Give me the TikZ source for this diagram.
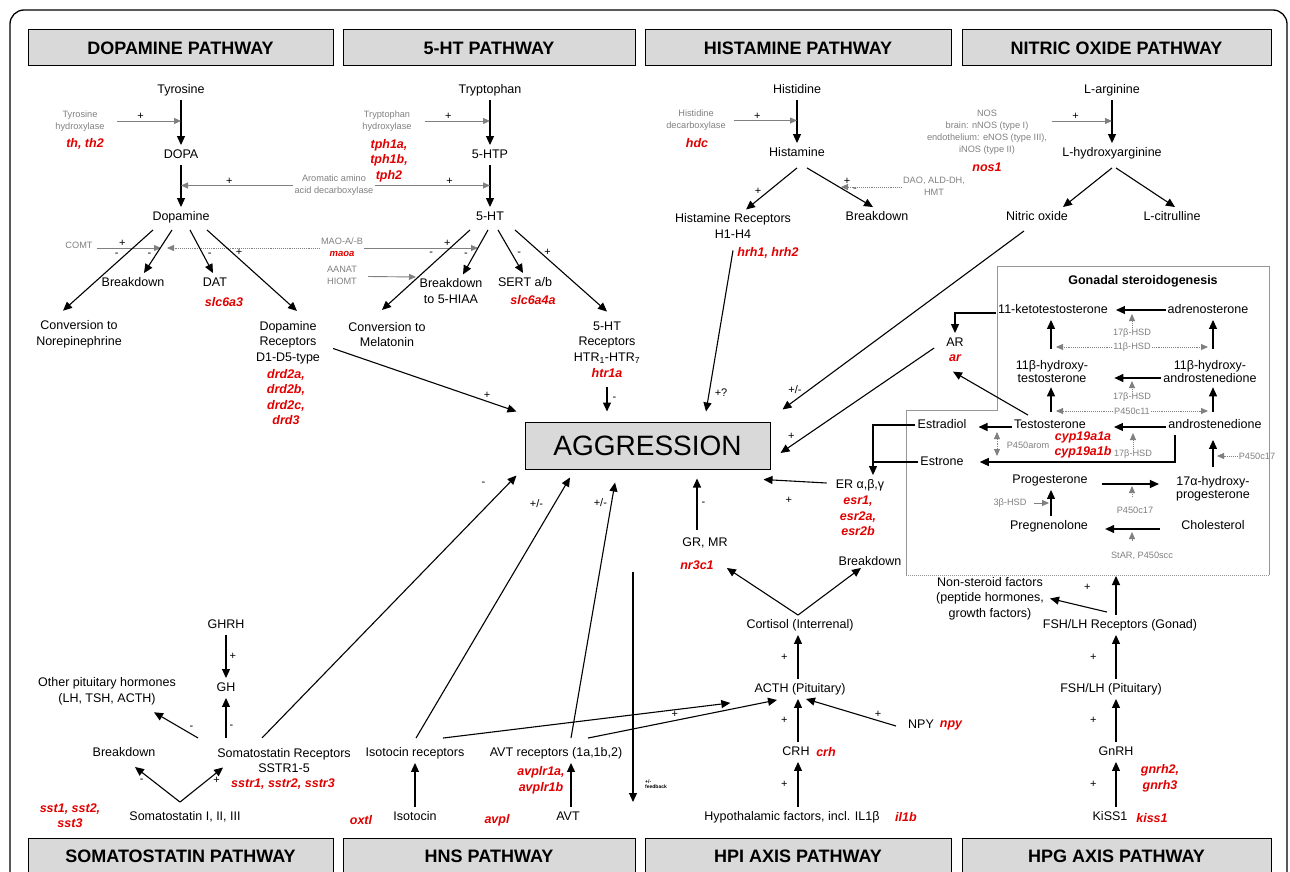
\documentclass[tikz,border=0pt]{standalone}
\usepackage{fontspec}
\setmainfont{Liberation Sans}
\usetikzlibrary{arrows.meta, calc}
\definecolor{hdrgray}{RGB}{217,217,217}
\definecolor{enzgray}{RGB}{128,128,128}
\definecolor{genered}{RGB}{225,0,0}
\definecolor{boxgray}{RGB}{150,150,150}
\tikzset{
  hdr/.style={draw=black, line width=1pt, fill=hdrgray, minimum height=36pt, inner sep=0pt, font=\fontsize{18}{18}\selectfont\bfseries},
  aggrbox/.style={draw=black, line width=1pt, fill=hdrgray, minimum width=245pt, minimum height=47pt, inner sep=0pt, font=\fontsize{28}{28}\selectfont},
  lbl/.style={font=\fontsize{12.5}{15}\selectfont, inner xsep=2pt, inner ysep=4pt, text height=9pt, text depth=2.5pt},
  mlbl/.style={font=\fontsize{12.5}{15.5}\selectfont, align=center, inner xsep=2pt, inner ysep=4pt},
  slbl/.style={font=\fontsize{12.5}{13}\selectfont, align=center, inner xsep=2pt, inner ysep=4pt},
  gene/.style={font=\fontsize{12.5}{15.5}\selectfont\bfseries\itshape, text=genered, align=center, inner sep=1pt},
  enz/.style={font=\fontsize{9.2}{12}\selectfont, text=enzgray, align=center, inner sep=1pt},
  sgn/.style={font=\fontsize{11}{11}\selectfont, inner sep=1pt},
  arr/.style={draw=black, line width=1.1pt, -{Triangle[length=9pt,width=8pt]}},
  garr/.style={draw=enzgray, line width=0.9pt, -{Triangle[length=7pt,width=6pt]}},
  gdarr/.style={garr, densely dotted},
  gdboth/.style={gdarr, {Triangle[length=7pt,width=6pt]}-{Triangle[length=7pt,width=6pt]}},
  boxline/.style={draw=boxgray, line width=1pt}
}
\begin{document}
\begin{tikzpicture}[x=1pt, y=-1pt]
\useasboundingbox (0,0) rectangle (1290,872);
\draw[line width=1.3pt, rounded corners=14pt] (10,10) rectangle (1287,900);

\node[hdr, minimum width=305pt] (hdopa) at (180.5,48) {DOPAMINE PATHWAY};
\node[hdr, minimum width=292pt] (hsht) at (489,48) {5-HT PATHWAY};
\node[hdr, minimum width=306pt] (hhis) at (798,48) {HISTAMINE PATHWAY};
\node[hdr, minimum width=309pt] (hno) at (1116.5,48) {NITRIC OXIDE PATHWAY};
\node[hdr, minimum width=305pt] (hsst) at (180.5,856) {SOMATOSTATIN PATHWAY};
\node[hdr, minimum width=292pt] (hhns) at (489,856) {HNS PATHWAY};
\node[hdr, minimum width=306pt] (hhpi) at (798,856) {HPI AXIS PATHWAY};
\node[hdr, minimum width=309pt] (hhpg) at (1116.5,856) {HPG AXIS PATHWAY};

\node[aggrbox] (aggr) at (647.5,445.5) {AGGRESSION};

\node[lbl] (tyr) at (181,90) {Tyrosine};
\node[lbl] (dopa) at (181,155) {DOPA};
\node[lbl] (dopam) at (181,217) {Dopamine};
\node[enz] (thenz) at (80,121) {Tyrosine\\hydroxylase};
\node[gene] (thgene) at (85,144) {th, th2};
\node[enz] (aadc) at (334,185.5) {Aromatic amino\\acid decarboxylase};
\node[enz] (comt) at (79,245) {COMT};
\node[enz] (mao) at (342,241) {MAO-A/-B};
\node[gene, font=\fontsize{9.5}{10}\selectfont\bfseries\itshape] (maogene) at (342,254) {maoa};
\node[enz] (aanat) at (342,275.5) {AANAT\\HIOMT};
\node[mlbl] (conor) at (79,334.5) {Conversion to\\Norepinephrine};
\node[lbl] (dbrk) at (133,283) {Breakdown};
\node[lbl] (dat) at (215,283) {DAT};
\node[gene] (datgene) at (224,302) {slc6a3};
\node[mlbl] (drec) at (288,342.5) {Dopamine\\Receptors\\D1-D5-type};
\node[gene] (drecgene) at (286,397) {drd2a,\\drd2b,\\drd2c,\\drd3};

\draw[arr] (tyr) -- (dopa);
\draw[arr] (dopa) -- (dopam);
\draw[garr] ($(thenz.east)+(11,0)$) -- (tyr |- thenz.east) node[sgn, pos=.37, above] (thp) {+};
\draw[garr] (aadc.west) -- (dopa |- aadc.west) node[sgn, pos=.57, above] (aadcp1) {+};
\coordinate (comtend) at (161,248);
\coordinate (maoend) at (167,248);
\coordinate (maoend2) at (478,248);
\coordinate (aanatend) at (416,277);
\draw[garr] ($(comt.east)+(3,3)$) -- (comtend) node[sgn, pos=.4, above] (comtp) {+};
\draw[gdarr] (mao.west |- maoend) -- (maoend);
\draw[garr] (mao.east |- maoend2) -- (maoend2) node[sgn, pos=.73, above] (maop) {+};
\draw[garr] ($(aanat.east)+(10,1)$) -- (aanatend);
\draw[arr] ($(dopam.south)+(-28,3)$) -- ($(conor.north)+(-16,-6)$) node[sgn, pos=.31, left=5pt] (dm1) {-};
\draw[arr] ($(dopam.south)+(-9,3)$) -- ($(dbrk.north)+(11,0)$) node[sgn, pos=.58, left=3pt] (dm2) {-};
\draw[arr] ($(dopam.south)+(9,3)$) -- ($(dat.north)+(-2,0)$) node[sgn, pos=.58, right=3pt] (dm3) {-};
\draw[arr] ($(dopam.south)+(26,3)$) -- ($(drec.north)+(9,-6)$) node[sgn, pos=.28, right=2pt] (dp1) {+};
\draw[arr] ($(drec.east)+(11,6)$) -- ($(aggr.north west)+(-8,-10)$) node[sgn, pos=.84, above=1pt] (dp2) {+};

\node[lbl] (trp) at (490,90) {Tryptophan};
\node[lbl] (htp) at (490,155) {5-HTP};
\node[lbl] (sht) at (490,217) {5-HT};
\node[enz] (tphenz) at (387,121) {Tryptophan\\hydroxylase};
\node[gene] (tphgene) at (389,160.5) {tph1a,\\tph1b,\\tph2};
\node[mlbl] (comel) at (387,334.5) {Conversion to\\Melatonin};
\node[mlbl] (sbrk) at (451,291) {Breakdown\\to 5-HIAA};
\node[lbl] (sert) at (525,283) {SERT a/b};
\node[gene] (sertgene) at (533,300) {slc6a4a};
\node[mlbl] (srec) at (607,342.5) {5-HT\\Receptors\\HTR\textsubscript{1}-HTR\textsubscript{7}};
\node[gene] (srecgene) at (607,373) {htr1a};

\draw[arr] (trp) -- (htp);
\draw[arr] (htp) -- (sht);
\draw[garr] ($(tphenz.east)+(12,0)$) -- (trp |- tphenz.east) node[sgn, pos=.36, above] (tphp) {+};
\draw[garr] (aadc.east) -- (trp |- aadc.east) node[sgn, pos=.65, above] (aadcp2) {+};
\draw[arr] ($(sht.south)+(-20,3)$) -- ($(comel.north)+(-5,-8)$) node[sgn, pos=.3, left=9pt] (sm1) {-};
\draw[arr] ($(sht.south)+(-2,3)$) -- ($(sbrk.north)+(12,0)$) node[sgn, pos=.55, left=5pt] (sm2) {-};
\draw[arr] ($(sht.south)+(8,3)$) -- ($(sert.north)+(-2,0)$) node[sgn, pos=.55, right=4pt] (sm3) {-};
\draw[arr] ($(sht.south)+(25,3)$) -- ($(srec.north)+(0,-6)$) node[sgn, pos=.28, right=2pt] (sp1) {+};
\draw[arr] ($(srecgene.south)+(0,8)$) -- ($(aggr.north)+(-40.5,-10)$) node[sgn, pos=.5, right=4pt] (sm4) {-};

\node[lbl] (his) at (797,90) {Histidine};
\node[lbl] (hist) at (797,153) {Histamine};
\node[enz] (hdcenz) at (696,120.5) {Histidine\\decarboxylase};
\node[gene] (hdcgene) at (697,143) {hdc};
\node[mlbl] (hrec) at (733,226) {Histamine Receptors\\H1-H4};
\node[lbl] (hbrk) at (877,217) {Breakdown};
\node[gene] (hrecgene) at (768,253) {hrh1, hrh2};
\node[enz] (dao) at (934,186) {DAO, ALD-DH,\\HMT};

\draw[arr] (his) -- (hist);
\draw[garr] ($(hdcenz.east)+(7,0)$) -- (his |- hdcenz.east) node[sgn, pos=.37, above] (hdcp) {+};
\draw[arr] ($(hist.south)+(0,5)$) -- ($(hrec.north)+(13,0)$) node[sgn, pos=.57, left=5pt] (hp1) {+};
\draw[arr] ($(hist.south)+(10,5)$) -- ($(hbrk.north)+(-4,0)$) node[sgn, pos=.57, right=7pt] (hm1) {-};
\coordinate (daoend) at (841,187);
\draw[gdarr] (dao.west |- daoend) -- (daoend) node[sgn, pos=.9, above=1pt] (daop) {+};
\draw[arr] ($(hrec.south)+(0,8)$) -- ($(aggr.north)+(58.5,-10)$) node[sgn, pos=.88, right=4pt] (hq) {+?};

\node[lbl] (arg) at (1112,90) {L-arginine};
\node[lbl] (harg) at (1112,153) {L-hydroxyarginine};
\node[enz] (nosenz) at (987,132) {NOS\\brain: nNOS (type I)\\endothelium: eNOS (type III),\\iNOS (type II)};
\node[gene] (nosgene) at (987,167) {nos1};
\node[lbl] (no) at (1037,217) {Nitric oxide};
\node[lbl] (cit) at (1172,217) {L-citrulline};

\draw[arr] (arg) -- (harg);
\coordinate (nosin) at ($(nosenz.east)+(4,-11)$);
\draw[garr] (nosin) -- (arg |- nosin) node[sgn, pos=.39, above] (nosp) {+};
\draw[arr] ($(harg.south)+(0,5)$) -- ($(no.north)+(26,0)$);
\draw[arr] ($(harg.south)+(4,5)$) -- ($(cit.north)+(3,0)$);
\draw[arr] ($(no.south)+(-13,4)$) -- ($(aggr.north east)+(12,-12)$) node[sgn, pos=.89, left=6pt] (nopm) {+/-};

\draw[boxline] (906,575) -- (906,410) -- (997,410) -- (997,266) -- (1269,266) -- (1269,575);
\draw[boxline, densely dotted] (1269,575) -- (906,575);
\node[font=\fontsize{12.5}{15}\selectfont\bfseries, inner sep=1pt] (gst) at (1143,281) {Gonadal steroidogenesis};
\coordinate (lc) at (1051,0);
\coordinate (rc) at (1213,0);
\coordinate (aromx) at (997,0);

\node[lbl] (ketot) at (1053,310) {11-ketotestosterone};
\node[lbl] (adren) at (1208,310) {adrenosterone};
\node[slbl] (hydt) at (1052,372) {11β-hydroxy-\\testosterone};
\node[slbl] (hyda) at (1210,372) {11β-hydroxy-\\androstenedione};
\node[lbl] (testo) at (1050,425) {Testosterone};
\node[lbl] (andro) at (1215,425) {androstenedione};
\node[lbl] (estd) at (942,425) {Estradiol};
\node[lbl] (estn) at (942,462) {Estrone};
\node[lbl] (prog) at (1050,480) {Progesterone};
\node[slbl] (ohp) at (1213,489) {17α-hydroxy-\\progesterone};
\node[lbl] (preg) at (1049,526) {Pregnenolone};
\node[lbl] (chol) at (1213,526) {Cholesterol};
\node[enz] (hsd1) at (1132,333) {17β-HSD};
\node[enz] (hsd11a) at (1132,347) {11β-HSD};
\node[enz] (hsd2) at (1132,397) {17β-HSD};
\node[enz] (p11) at (1132,411) {P450c11};
\node[enz] (hsd3) at (1133,454) {17β-HSD};
\node[enz] (arom) at (1028,445) {P450arom};
\node[enz] (pc17a) at (1135,510) {P450c17};
\node[enz] (scc) at (1142,556) {StAR, P450scc};
\node[enz] (bhsd) at (1010,503) {3β-HSD};
\node[enz] (pc17b) at (1257,456) {P450c17};
\node[gene] (cypgene) at (1083,445) {cyp19a1a\\cyp19a1b};
\node[lbl] (ar) at (955,343) {AR};
\node[gene] (argene) at (955,358) {ar};
\node[lbl] (er) at (860,485) {ER α,β,γ};
\node[gene] (ergene) at (858,516) {esr1,\\esr2a,\\esr2b};

\draw[arr] (adren.west) -- ($(ketot.east)+(6,0)$);
\draw[gdarr] (hsd1.north) -- ($(hsd1.north |- adren.west)+(0,4)$);
\draw[arr] ($(lc |- hydt.north)+(0,-8)$) -- (lc |- ketot.south);
\draw[arr] ($(rc |- hyda.north)+(0,-8)$) -- (rc |- adren.south);
\draw[gdarr] (hsd11a.west) -- ($(lc |- hsd11a.west)+(5,0)$);
\draw[gdarr] (hsd11a.east) -- ($(rc |- hsd11a.east)+(-5,0)$);
\draw[arr] ($(hyda.west)+(0,6)$) -- ($(hydt.east)+(24,6)$);
\draw[gdarr] (hsd2.north) -- ($(hsd2.north |- hyda.west)+(0,9)$);
\draw[arr] ($(lc |- testo.north)+(0,-3)$) -- (lc |- hydt.south);
\draw[arr] ($(rc |- andro.north)+(0,-3)$) -- (rc |- hyda.south);
\draw[gdarr] (p11.west) -- ($(lc |- p11.west)+(5,0)$);
\draw[gdarr] (p11.east) -- ($(rc |- p11.east)+(-5,0)$);
\draw[arr] ($(andro.west)+(0,2)$) -- ($(testo.east)+(26,2)$);
\draw[gdarr] (hsd3.north) -- ($(hsd3.north |- andro.west)+(0,8)$);
\draw[arr] ($(testo.west)+(0,2)$) -- ($(estd.east)+(10,2)$);
\draw[gdboth] ($(aromx |- testo.west)+(0,7)$) -- ($(aromx |- estn.east)+(0,-6)$);
\draw[arr] ($(andro.south)+(-40,0)$) |- ($(estn.east)+(14,0)$);
\coordinate (erin) at ($(er.north)+(13,0)$);
\draw[arr] (estd.west) -| (erin);
\draw[line width=1.1pt] (estn.west) -- (erin |- estn.west);
\draw[arr] ($(ketot.west)+(0,3)$) -| (ar.north);
\draw[arr] ($(testo.north)+(-22,0)$) -- ($(argene.south)+(-2,9)$);
\draw[arr] ($(ar.west)+(-10,5)$) -- ($(aggr.east)+(10,7.5)$) node[sgn, pos=.93, above=5pt] (arp) {+};
\draw[arr] ($(prog.east)+(12,4)$) -- ($(ohp.west)+(-15,-5)$);
\draw[gdarr] ($(pc17a.north)+(-3,-9)$) -- ($(pc17a.north |- prog.east)+(-3,6)$);
\draw[arr] ($(chol.west)+(-19,3)$) -- ($(preg.east)+(15,3)$);
\draw[gdarr] ($(scc.north)+(-10,-10)$) -- ($(scc.north |- chol.west)+(-10,6)$);
\draw[garr] ($(bhsd.east)+(6,0)$) -- ($(lc |- bhsd.east)+(-2,0)$);
\draw[arr] (lc |- preg.north) -- (lc |- prog.south);
\draw[arr] ($(rc |- ohp.north)+(0,-5)$) -- ($(rc |- andro.south)+(0,5)$);
\draw[gdarr] (pc17b.west) -- ($(rc |- pc17b.west)+(4,0)$);
\draw[arr] ($(er.west)+(-7,-2)$) -- ($(aggr.south east)+(-7,10)$) node[sgn, pos=.6, below=15pt] (erp) {+};

\coordinate (gonin) at (1116,576);
\coordinate (gcol) at (1116,0);
\node[mlbl] (nsf) at (990,598.5) {Non-steroid factors\\(peptide hormones,\\growth factors)};
\node[lbl] (fshr) at (1120,625) {FSH/LH Receptors (Gonad)};
\node[lbl] (fshp) at (1111,689) {FSH/LH (Pituitary)};
\node[lbl] (gnrh) at (1116,752) {GnRH};
\node[gene] (gnrhgene) at (1160,778.5) {gnrh2,\\gnrh3};
\node[lbl] (kiss) at (1110,817) {KiSS1};
\node[gene] (kissgene) at (1152,818) {kiss1};

\draw[arr] (gcol |- fshr.north) -- (gonin) node[sgn, pos=.7, left=24pt] (gp1) {+};
\draw[arr] ($(fshr.north)+(-13,-3)$) -- ($(nsf.east)+(4,0)$);
\draw[arr] (gcol |- fshp.north) -- (gcol |- fshr.south) node[sgn, pos=.5, left=18pt] (gp2) {+};
\draw[arr] (gcol |- gnrh.north) -- (gcol |- fshp.south) node[sgn, pos=.5, left=18pt] (gp3) {+};
\draw[arr] (gcol |- kiss.north) -- (gcol |- gnrh.south) node[sgn, pos=.5, left=18pt] (gp4) {+};

\coordinate (pcol) at (798,0);
\node[lbl] (grmr) at (705,543) {GR, MR};
\node[gene] (grgene) at (697,565) {nr3c1};
\node[lbl] (cbrk) at (870,562) {Breakdown};
\node[lbl] (cort) at (800,625) {Cortisol (Interrenal)};
\node[lbl] (acth) at (800,689) {ACTH (Pituitary)};
\node[lbl] (crh) at (796,752) {CRH};
\node[gene] (crhgene) at (826,752) {crh};
\node[lbl] (npy) at (921,725) {NPY};
\node[gene] (npygene) at (951,725) {npy};
\node[lbl] (hypo) at (792,817) {Hypothalamic factors, incl. IL1β};
\node[gene] (il1bgene) at (906,817) {il1b};
\node[font=\fontsize{5}{5.5}\selectfont\bfseries, align=left, anchor=west, inner sep=0pt] (fb) at (645,784) {+/-\\feedback};

\draw[arr] (pcol |- hypo.north) -- (pcol |- crh.south) node[sgn, pos=.5, left=9pt] (cp1) {+};
\draw[arr] (pcol |- crh.north) -- (pcol |- acth.south) node[sgn, pos=.5, left=9pt] (cp2) {+};
\draw[arr] (pcol |- acth.north) -- (pcol |- cort.south) node[sgn, pos=.5, left=9pt] (cp3) {+};
\draw[arr] (pcol |- cort.north) -- ($(grgene.east)+(12,3)$);
\draw[arr] (pcol |- cort.north) -- ($(cbrk.south)+(-9,-4)$);
\draw[arr] ($(npy.west)+(-10,1)$) -- ($(acth.south)+(6,0)$) node[sgn, pos=.2, above=2pt] (npp) {+};
\draw[arr] ($(grmr.north)+(-8,-3)$) -- ($(aggr.south)+(49.5,9)$) node[sgn, pos=.5, right=3pt] (grm) {-};

\node[lbl] (itr) at (415,753) {Isotocin receptors};
\node[lbl] (ito) at (415,817) {Isotocin};
\node[gene] (oxtl) at (361,820) {oxtl};
\node[lbl] (avtr) at (556,753) {AVT receptors (1a,1b,2)};
\node[gene] (avtgene) at (541,780.5) {avplr1a,\\avplr1b};
\node[lbl] (avt) at (568,817) {AVT};
\node[gene] (avpl) at (497,820) {avpl};

\draw[arr] (ito) -- (itr);
\draw[arr] ($(avt.north)+(3,0)$) -- ($(avt.north |- avtr.south)+(3,0)$);
\draw[arr] ($(itr.north)+(1,-5)$) -- ($(aggr.south)+(-77.5,8)$) node[sgn, pos=.9, left=10pt] (ipm) {+/-};
\draw[arr] ($(avtr.north)+(15,-5)$) -- ($(aggr.south)+(-32.5,13)$) node[sgn, pos=.92, left=3pt] (apm) {+/-};
\draw[arr] ($(itr.north)+(28,-5)$) -- ($(acth.south west)+(-22,4)$);
\draw[arr] ($(avtr.north)+(32,-5)$) -- ($(acth.south)+(-23,1)$) node[sgn, pos=.46, above=1pt] (avp) {+};
\coordinate (fbtop) at (633,572);
\coordinate (fbbot) at (633,802);
\draw[arr] (fbtop) -- (fbbot);

\node[lbl] (ghrh) at (226,625) {GHRH};
\node[lbl] (gh) at (226,688) {GH};
\node[mlbl] (oph) at (107,691.5) {Other pituitary hormones\\(LH, TSH, ACTH)};
\node[lbl] (sbrk2) at (124,753) {Breakdown};
\node[mlbl] (sstr) at (284,760.5) {Somatostatin Receptors\\SSTR1-5};
\node[gene] (sstrgene) at (283,784) {sstr1, sstr2, sstr3};
\node[lbl] (sst) at (185,817) {Somatostatin I, II, III};
\node[gene] (sstgene) at (70,815.5) {sst1, sst2,\\sst3};

\draw[arr] (ghrh) -- (gh) node[sgn, pos=.5, right=2pt] (ghp) {+};
\draw[arr] ($(gh |- sstr.north)+(0,-6)$) -- (gh.south) node[sgn, pos=.27, right=2pt] (ghm) {-};
\draw[arr] ($(sstr.north)+(-86,-6)$) -- ($(oph.south)+(47,3)$) node[sgn, pos=.15, above=3pt] (ophm) {-};
\draw[arr] ($(sst.north)+(-5,-5)$) -- ($(sbrk2.south)+(11,4)$) node[sgn, pos=.85, below=5pt] (sbm) {-};
\draw[arr] ($(sst.north)+(-5,-5)$) -- ($(sstr.west)+(8,7)$) node[sgn, pos=.85, below=3pt] (ssp) {+};
\draw[arr] ($(sstr.north)+(-22,-6)$) -- ($(aggr.south west)+(-8,6)$) node[sgn, pos=.97, left=22pt] (sam) {-};
\end{tikzpicture}
\end{document}
